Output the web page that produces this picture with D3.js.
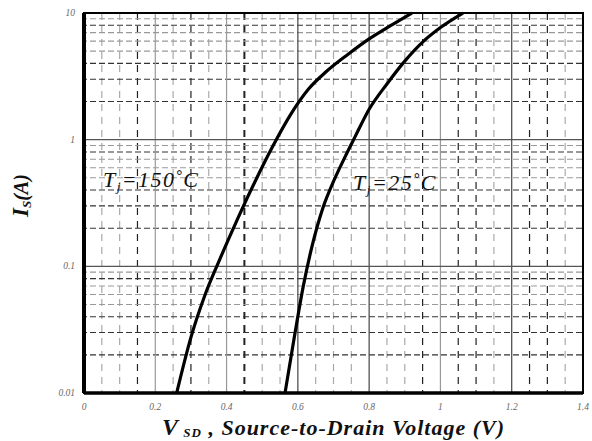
<!DOCTYPE html>
<html>
<head>
<meta charset="utf-8">
<script src="https://cdn.jsdelivr.net/npm/d3@7"></script>
<style>
  body { margin: 0; background: #fff; }
  svg { display: block; }
  .tick-label { font-family: "Liberation Serif", serif; font-style: italic; font-size: 9.5px; fill: #666; }
  .title { font-family: "Liberation Serif", serif; font-style: italic; font-weight: bold; fill: #111; }
  .temp { font-family: "Liberation Serif", serif; font-style: italic; fill: #111; letter-spacing: 1.5px; }
</style>
</head>
<body>
<div id="chart"></div>
<script>
// Axis ticks
var xTicks = [0, 0.2, 0.4, 0.6, 0.8, 1, 1.2, 1.4];
var xTickLabels = ["0", "0.2", "0.4", "0.6", "0.8", "1", "1.2", "1.4"];
var yTicks = [0.01, 0.1, 1, 10];
var yTickLabels = ["0.01", "0.1", "1", "10"];

// Minor grid (every 0.05 V, 2..9 per decade); the darker ones as printed
var xMinorDark = [0.15, 0.3, 0.45, 0.95, 1.05, 1.1, 1.25, 1.3];
var xMajorDark = [0.6, 0.8, 1.2];
var yMinorDarkMantissa = [2, 3, 4, 8];

// Tj = 150 C curve
var v150 = [0.26, 0.30, 0.34, 0.38, 0.43, 0.48, 0.53, 0.58, 0.63, 0.68, 0.74, 0.80, 0.86, 0.92];
var i150 = [0.01, 0.0275, 0.060, 0.112, 0.234, 0.468, 0.891, 1.585, 2.51, 3.45, 4.70, 6.24, 7.94, 10];

// Tj = 25 C curve
var v25 = [0.564, 0.59, 0.615, 0.64, 0.67, 0.70, 0.73, 0.76, 0.80, 0.85, 0.90, 0.95, 1.0, 1.063];
var i25 = [0.01, 0.0275, 0.0692, 0.145, 0.288, 0.468, 0.708, 1.047, 1.738, 2.754, 4.169, 5.888, 7.674, 10];

var svgWidth = 592;
var svgHeight = 441;
var margin = { top: 13, right: 9, bottom: 48, left: 84 },
    plotWidth = svgWidth - margin.left - margin.right,
    plotHeight = svgHeight - margin.top - margin.bottom;

var xScale = d3.scaleLinear().domain([0, 1.4]).range([0, plotWidth]);
var yScale = d3.scaleLog().domain([0.01, 10]).range([plotHeight, 0]);

var svg = d3.select("#chart").append("svg")
    .attr("width", svgWidth)
    .attr("height", svgHeight);

var plot = svg.append("g")
    .attr("transform", "translate(" + margin.left + "," + margin.top + ")");

// Minor vertical dashed grid
var xMinor = d3.range(1, 28).map(function (k) { return k * 0.05; })
    .filter(function (v) { return Math.abs(v / 0.2 - Math.round(v / 0.2)) > 0.01; });

plot.selectAll(".vminor")
    .data(xMinor)
    .enter().append("line")
    .attr("class", "vminor")
    .attr("x1", function (d) { return xScale(d); })
    .attr("x2", function (d) { return xScale(d); })
    .attr("y1", 0)
    .attr("y2", plotHeight)
    .attr("stroke", function (d) {
        var dark = xMinorDark.some(function (v) { return Math.abs(v - d) < 0.001; });
        return dark ? "#222" : "#aaa";
    })
    .attr("stroke-width", function (d) { return Math.abs(d - 0.45) < 0.001 ? 2 : 1.2; })
    .attr("stroke-dasharray", "7,6");

// Minor horizontal dashed grid
var yMinor = [];
[0.01, 0.1, 1].forEach(function (dec) {
    for (var m = 2; m <= 9; m++) yMinor.push({ v: dec * m, m: m });
});

plot.selectAll(".hminor")
    .data(yMinor)
    .enter().append("line")
    .attr("class", "hminor")
    .attr("x1", 0)
    .attr("x2", plotWidth)
    .attr("y1", function (d) { return yScale(d.v); })
    .attr("y2", function (d) { return yScale(d.v); })
    .attr("stroke", function (d) { return yMinorDarkMantissa.indexOf(d.m) >= 0 ? "#333" : "#999"; })
    .attr("stroke-width", 1.1)
    .attr("stroke-dasharray", "6,3")
    .attr("stroke-dashoffset", 3);

// Major grid
plot.selectAll(".vmajor")
    .data(xTicks.slice(1, -1))
    .enter().append("line")
    .attr("class", "vmajor")
    .attr("x1", function (d) { return xScale(d); })
    .attr("x2", function (d) { return xScale(d); })
    .attr("y1", 0)
    .attr("y2", plotHeight)
    .attr("stroke", function (d) { return xMajorDark.indexOf(d) >= 0 ? "#444" : "#999"; })
    .attr("stroke-width", 1.2);

plot.selectAll(".hmajor")
    .data(yTicks.slice(1, -1))
    .enter().append("line")
    .attr("class", "hmajor")
    .attr("x1", 0)
    .attr("x2", plotWidth)
    .attr("y1", function (d) { return yScale(d); })
    .attr("y2", function (d) { return yScale(d); })
    .attr("stroke", "#555")
    .attr("stroke-width", 1.2);

// Curves
var line = d3.line()
    .x(function (d) { return xScale(d[0]); })
    .y(function (d) { return yScale(d[1]); })
    .curve(d3.curveMonotoneX);

plot.append("path")
    .datum(d3.zip(v150, i150))
    .attr("fill", "none")
    .attr("stroke", "#000")
    .attr("stroke-width", 3.2)
    .attr("d", line);

plot.append("path")
    .datum(d3.zip(v25, i25))
    .attr("fill", "none")
    .attr("stroke", "#000")
    .attr("stroke-width", 3.2)
    .attr("d", line);

// Frame
plot.append("rect")
    .attr("x", 0).attr("y", 0)
    .attr("width", plotWidth).attr("height", plotHeight)
    .attr("fill", "none")
    .attr("stroke", "#000")
    .attr("stroke-width", 2);
plot.append("line")
    .attr("x1", 0).attr("x2", 0).attr("y1", 0).attr("y2", plotHeight)
    .attr("stroke", "#000").attr("stroke-width", 4);
plot.append("line")
    .attr("x1", 0).attr("x2", plotWidth).attr("y1", plotHeight).attr("y2", plotHeight)
    .attr("stroke", "#000").attr("stroke-width", 3.5);

// Tick labels
plot.selectAll(".xlab")
    .data(xTicks)
    .enter().append("text")
    .attr("class", "tick-label")
    .attr("x", function (d) { return xScale(d); })
    .attr("y", plotHeight + 17)
    .attr("text-anchor", "middle")
    .text(function (d, i) { return xTickLabels[i]; });

plot.selectAll(".ylab")
    .data(yTicks)
    .enter().append("text")
    .attr("class", "tick-label")
    .attr("x", -9)
    .attr("y", function (d) { return yScale(d) + 3; })
    .attr("text-anchor", "end")
    .text(function (d, i) { return yTickLabels[i]; });

// Temperature labels
function tempLabel(v, i, temp) {
    var t = plot.append("text")
        .attr("class", "temp")
        .attr("x", xScale(v))
        .attr("y", yScale(i))
        .style("font-size", "22px");
    t.append("tspan").text("T");
    t.append("tspan").attr("dy", 4).style("font-size", "13px").text("j");
    t.append("tspan").attr("dy", -4).text("=" + temp);
    t.append("tspan").attr("dy", -7).style("font-size", "15px").style("font-weight", "bold").text("\u00b0");
    t.append("tspan").attr("dy", 7).text("C");
}
tempLabel(0.053, 0.42, "150");
tempLabel(0.755, 0.40, "25");

// Axis titles
var xt = svg.append("text")
    .attr("class", "title")
    .attr("x", 162)
    .attr("y", 435)
    .style("font-size", "22px")
    .style("letter-spacing", "1px");
xt.append("tspan").style("font-size", "24px").text("V");
xt.append("tspan").attr("dy", 2).style("font-size", "13px").text(" SD");
xt.append("tspan").attr("dy", -2).text(" , Source-to-Drain Voltage (V)");

var yt = svg.append("text")
    .attr("class", "title")
    .attr("transform", "translate(28,217) rotate(-90)")
    .style("font-size", "20px");
yt.append("tspan").style("font-size", "23px").text("I");
yt.append("tspan").attr("dy", 3).style("font-size", "13px").text("S");
yt.append("tspan").attr("dy", -3).text("(A)");
</script>
</body>
</html>
